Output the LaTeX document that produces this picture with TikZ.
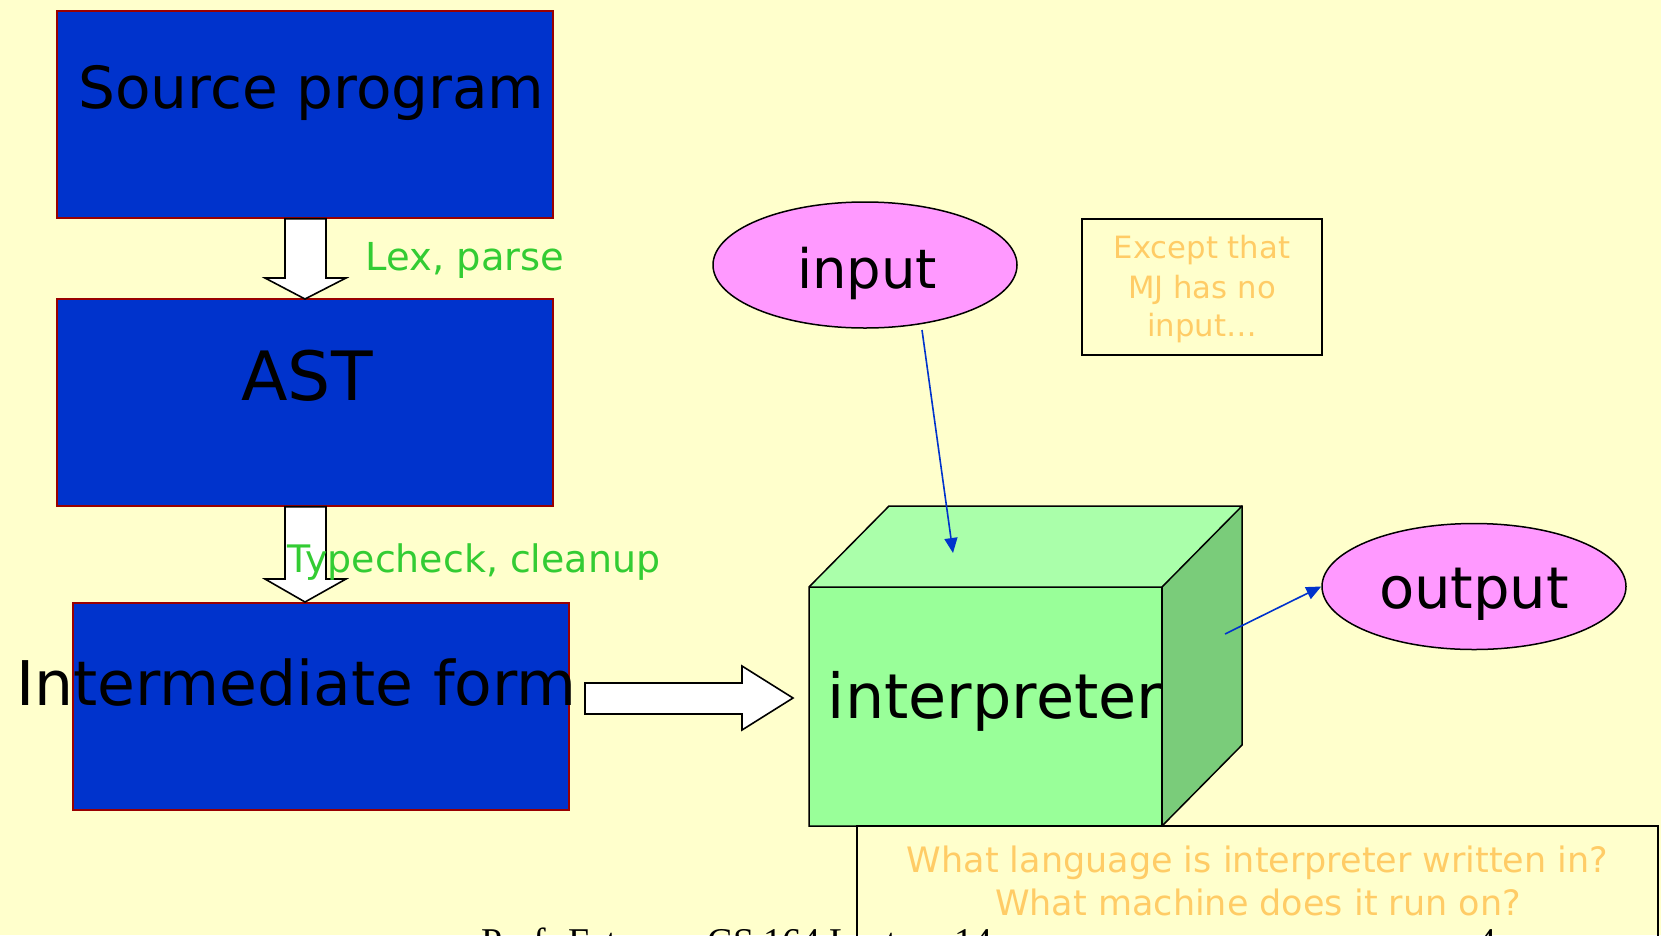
\documentclass[tikz,border=0pt]{standalone}
\usepackage{fontspec}
\setmainfont{DejaVu Sans}
\newfontfamily\footfont{Liberation Serif}
\usetikzlibrary{arrows.meta,shapes.geometric}
\definecolor{bgc}{HTML}{FFFFCC}
\definecolor{boxblue}{HTML}{0033CC}
\definecolor{boxred}{HTML}{990000}
\definecolor{lblgreen}{HTML}{33CC33}
\definecolor{noteorange}{HTML}{FFCC66}
\definecolor{cubefront}{HTML}{99FF99}
\definecolor{cubetop}{HTML}{AAFFAA}
\definecolor{cubeside}{HTML}{7ACC7A}
\definecolor{ellpink}{HTML}{FF99FF}
\tikzset{
  bluebox/.style={draw=boxred, line width=1.5pt, fill=boxblue, minimum width=496pt, minimum height=207pt, inner sep=0pt},
  bigtext/.style={anchor=base, inner sep=0pt, text=black},
  blockarrow/.style={draw=black, line width=1.6pt, fill=white, line join=miter},
  pinkell/.style={ellipse, draw=black, line width=1.5pt, fill=ellpink, minimum width=304pt, minimum height=126pt, inner sep=0pt},
  greenlbl/.style={anchor=base, inner sep=0pt, text=lblgreen},
  notetext/.style={anchor=base, inner sep=0pt, text=noteorange},
  cubeface/.style={draw=black, line width=1.5pt, line join=miter},
  thinarrow/.style={draw=boxblue, line width=1.6pt, -{Triangle[length=15pt,width=13pt]}},
}
\begin{document}
\begin{tikzpicture}[x=1pt,y=-1pt]
\fill[bgc] (0,0) rectangle (1661,935);
\useasboundingbox (0,0) rectangle (1661,935);
\begin{scope}
\clip (0,0) rectangle (1661,935);
% footer (partly cut)
\node[anchor=base west, inner sep=0pt, font=\footfont\fontsize{37.8}{40}\selectfont] (foot) at (481,954) {Prof. Fateman CS 164 Lecture 14};
\node[anchor=base west, inner sep=0pt, font=\footfont\fontsize{37.8}{40}\selectfont] (pnum) at (1477,954) {4};
\end{scope}

% blue boxes
\node[bluebox] (src) at (305,114.5) {};
\node[bluebox] (ast) at (305,402.5) {};
\node[bluebox] (imf) at (321,706.5) {};
\node[bigtext, font=\fontsize{58.1}{60}\selectfont] (srcT) at (311.5,108) {Source program};
\node[bigtext, font=\fontsize{68}{70}\selectfont] (astT) at (307,400) {AST};
\node[bigtext, font=\fontsize{61.6}{64}\selectfont] (imfT) at (296.5,705) {Intermediate form};

% block arrows
\draw[blockarrow] (src.south -| 285,0) -- (285,278) -- (265,278) -- (305,299) -- (346,278) -- (326,278) -- (src.south -| 326,0) -- cycle;
\draw[blockarrow] (ast.south -| 285,0) -- (285,579) -- (265,579) -- (305,602) -- (346,579) -- (326,579) -- (ast.south -| 326,0) -- cycle;
\draw[blockarrow] (585,683) -- (742,683) -- (742,666) -- (793,698) -- (742,730) -- (742,714) -- (585,714) -- cycle;

\node[greenlbl, font=\fontsize{38.5}{40}\selectfont] (lex) at (465,270) {Lex, parse};
\node[greenlbl, font=\fontsize{37.9}{40}\selectfont] (tc) at (474,572) {Typecheck, cleanup};

% cube
\fill[cubetop] (809,587) -- (889,506) -- (1242,506) -- (1162,587) -- cycle;
\fill[cubeside] (1162,587) -- (1242,506) -- (1242,745) -- (1162,826) -- cycle;
\fill[cubefront] (809,587) rectangle (1162,826);
\draw[cubeface] (809,587) -- (889,506) -- (1242,506) -- (1242,745) -- (1162,826) -- (809,826) -- cycle;
\draw[cubeface] (809,587) -- (1162,587) -- (1242,506);
\draw[cubeface] (1162,587) -- (1162,826);
\node[bigtext, font=\fontsize{62}{64}\selectfont] (interp) at (995,718) {interpreter};

% ellipses
\node[pinkell] (in) at (865,265) {};
\node[bigtext, font=\fontsize{54.4}{56}\selectfont] (inT) at (867,288) {input};
\node[pinkell] (out) at (1474,586.5) {};
\node[bigtext, font=\fontsize{57.6}{60}\selectfont] (outT) at (1474,608) {output};

\coordinate (inStart) at (922,330);
\coordinate (inEnd) at (953,553);
\coordinate (outStart) at (1225,634);
\draw[thinarrow] (inStart) -- (inEnd);
\draw[thinarrow] (outStart) -- (out.west);

% note box
\node[draw=black, line width=2pt, minimum width=240pt, minimum height=136pt, inner sep=0pt] (note) at (1202,287) {};
\node[notetext, font=\fontsize{30.7}{32}\selectfont] (n1) at (1202,258) {Except that};
\node[notetext, font=\fontsize{30.7}{32}\selectfont] (n2) at (1202,298) {MJ has no};
\node[notetext, font=\fontsize{30.7}{32}\selectfont] (n3) at (1202,336) {input…};

% bottom box
\draw[line width=1.6pt] (857,960) -- (857,826) -- (1658,826) -- (1658,960);
\node[notetext, font=\fontsize{35}{38}\selectfont] (q1) at (1257.5,872) {What language is interpreter written in?};
\node[notetext, font=\fontsize{35}{38}\selectfont] (q2) at (1258,915) {What machine does it run on?};
\end{tikzpicture}
\end{document}
